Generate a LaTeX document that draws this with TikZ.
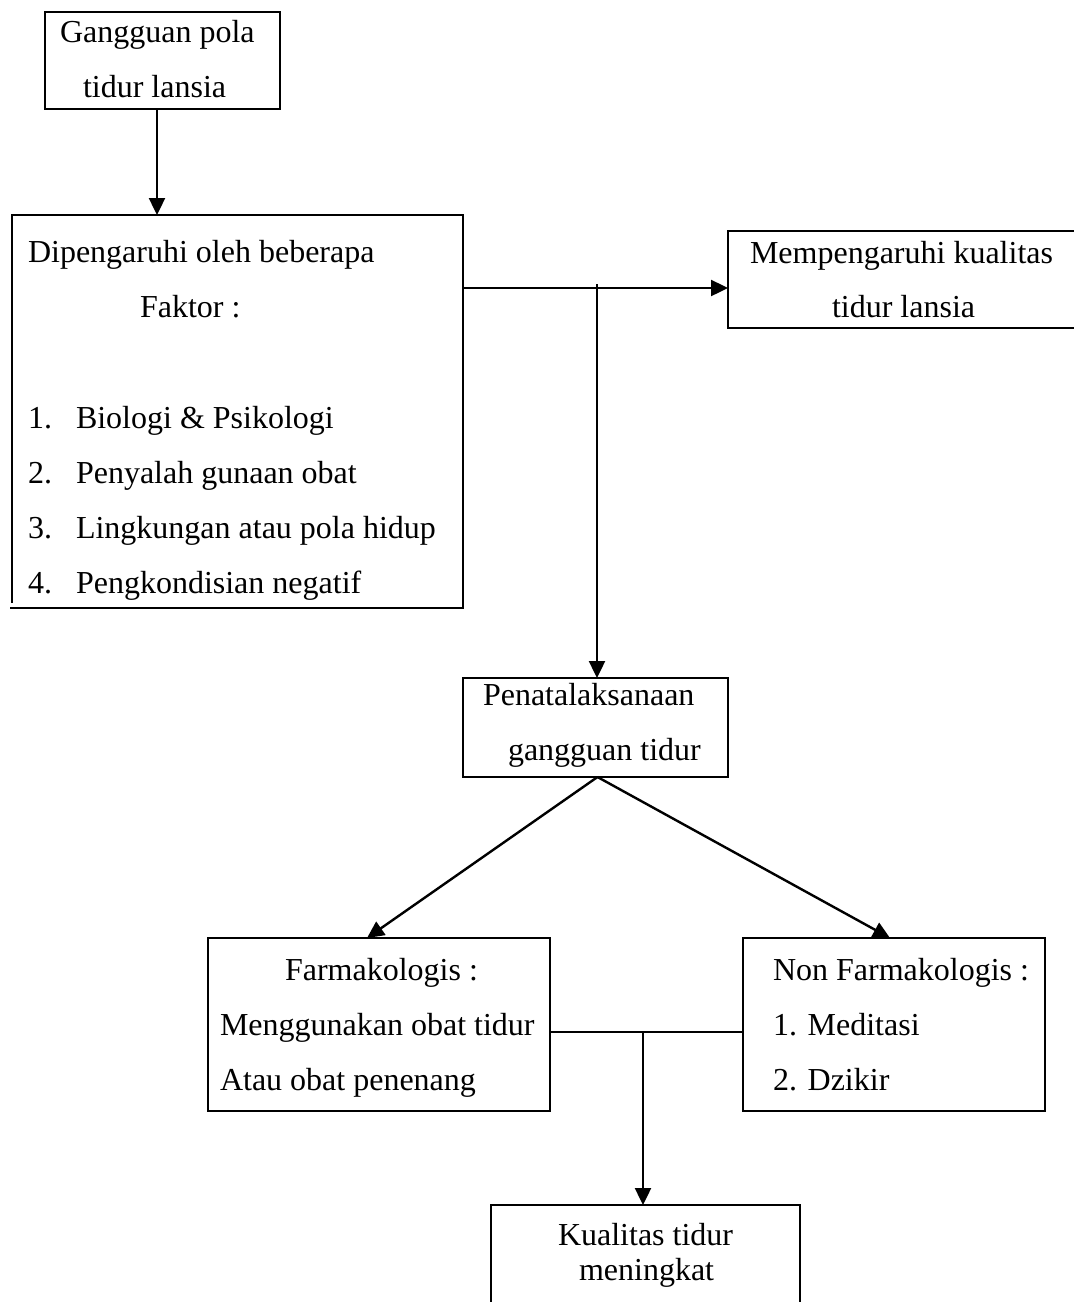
\documentclass[tikz,border=0pt]{standalone}
\usepackage{fontspec}
\setmainfont{Liberation Serif}
\usetikzlibrary{arrows.meta}
\tikzset{
  boxline/.style={line width=1.8pt, line join=miter},
  box/.style={draw, boxline, rectangle, inner sep=0pt, outer sep=0pt, anchor=north west},
  area/.style={rectangle, inner sep=0pt, outer sep=0pt, anchor=north west},
  txt/.style={anchor=base west, inner sep=0pt, outer sep=0pt, font=\fontsize{32}{38}\selectfont},
  conn/.style={line width=2.4pt},
  arr/.style={conn, -{Triangle[length=17pt,width=16pt]}}
}
\begin{document}
\begin{tikzpicture}[x=1pt,y=-1pt]
\path[use as bounding box] (0,0) rectangle (1074,1302);
\clip (0,0) rectangle (1074,1302);
% boxes
\node[box, minimum width=235pt, minimum height=97pt] (b1) at (45,12) {};
\node[area, minimum width=451pt, minimum height=393pt] (b2) at (12,215) {};
\draw[boxline] ([yshift=5pt]b2.south west) -- (b2.north west) -- (b2.north east) -- (b2.south east) -- ([xshift=-2pt]b2.south west);
\node[box, minimum width=370pt, minimum height=97pt] (b3) at (728,231) {};
\node[box, minimum width=265pt, minimum height=99pt] (b4) at (463,678) {};
\node[box, minimum width=342pt, minimum height=173pt] (b5) at (208,938) {};
\node[box, minimum width=302pt, minimum height=173pt] (b6) at (743,938) {};
\node[box, minimum width=309pt, minimum height=130pt] (b7) at (491,1205) {};
% texts
\node[txt] (t1a) at (60,42) {Gangguan pola};
\node[txt] (t1b) at (83,97) {tidur lansia};
\node[txt] (t2a) at (28,262) {Dipengaruhi oleh beberapa};
\node[txt] (t2b) at (140,317) {Faktor :};
\node[txt] (n1) at (28,428) {1.};
\node[txt] (i1) at (76,428) {Biologi \& Psikologi};
\node[txt] (n2) at (28,483) {2.};
\node[txt] (i2) at (76,483) {Penyalah gunaan obat};
\node[txt] (n3) at (28,538) {3.};
\node[txt] (i3) at (76,538) {Lingkungan atau pola hidup};
\node[txt] (n4) at (28,593) {4.};
\node[txt] (i4) at (76,593) {Pengkondisian negatif};
\node[txt] (t3a) at (750,263) {Mempengaruhi kualitas};
\node[txt] (t3b) at (832,317) {tidur lansia};
\node[txt] (t4a) at (483,705) {Penatalaksanaan};
\node[txt] (t4b) at (508,760) {gangguan tidur};
\node[txt] (t5a) at (285,980) {Farmakologis :};
\node[txt] (t5b) at (220,1035) {Menggunakan obat tidur};
\node[txt] (t5c) at (220,1090) {Atau obat penenang};
\node[txt] (t6a) at (773,980) {Non Farmakologis :};
\node[txt] (t6b) at (773,1035) {1. Meditasi};
\node[txt] (t6c) at (773,1090) {2. Dzikir};
\node[txt] (t7a) at (558,1245) {Kualitas tidur};
\node[txt] (t7b) at (579,1280) {meningkat};
% junctions
\coordinate (j1) at (597,288);
\coordinate (j2) at (643,1032);
% connectors
\draw[arr] ([xshift=-5.5pt]b1.south) -- ([xshift=-5.5pt]b1.south |- b2.north);
\draw[arr] (b2.east |- j1) -- (b3.west |- j1);
\draw[arr] ([yshift=4pt]j1) -- (j1 |- b4.north);
\draw[arr] ([xshift=2pt]b4.south) -- ([xshift=-12pt]b5.north);
\draw[arr] ([xshift=2pt]b4.south) -- ([xshift=-4pt]b6.north);
\draw[conn] (b5.east |- j2) -- (b6.west |- j2);
\draw[arr] (j2) -- (j2 |- b7.north);
\end{tikzpicture}
\end{document}
